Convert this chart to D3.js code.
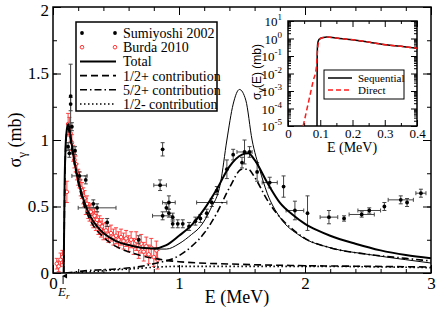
<!DOCTYPE html>
<html><head><meta charset="utf-8">
<script src="https://cdn.jsdelivr.net/npm/d3@7"></script>
<style>
body{margin:0;background:#fff}
svg text{font-family:"Liberation Serif","DejaVu Serif",serif !important;fill:#000}
svg text.sans{font-family:"Liberation Sans","DejaVu Sans",sans-serif !important}
</style>
</head><body><script>
// --- data ---
// Sumiyoshi 2002: energy, sigma, x-error, y-error
const sumE  = [0.12,0.14,0.14,0.15,0.13,0.175,0.21,0.26,0.32,0.35,0.43,0.68,
               0.87,0.85,0.92,0.9,0.87,0.92,0.95,0.95,0.99,1.03,1.08,1.13,1.17,1.22,1.26,1.3,1.38,1.43,1.5,1.52,1.56,1.62,1.72,1.83,1.92,2.02,2.19,2.31,2.45,2.51,2.63,2.76,2.81,2.92]
const sumS  = [0.95,1.33,1.27,1.1,0.9,0.92,0.73,0.7,0.52,0.49,0.38,0.25,
               0.93,0.66,0.53,0.49,0.43,0.45,0.42,0.37,0.37,0.37,0.35,0.39,0.41,0.45,0.53,0.62,0.78,0.89,0.83,0.91,0.91,0.76,0.68,0.65,0.47,0.45,0.42,0.41,0.44,0.47,0.5,0.55,0.53,0.6]
const sumDE = [0,0,0,0,0,0,0.06,0,0,0.15,0,0,
               0,0.05,0.05,0,0.08,0,0,0,0,0,0,0,0,0,0.12,0,0,0,0,0.06,0,0,0.06,0,0.07,0,0.07,0,0.1,0.09,0,0.1,0,0.04]
const sumDS = [0.03,0.24,0.05,0.03,0.03,0.03,0.03,0.03,0.03,0.03,0.03,0.03,
               0.05,0.04,0.05,0.03,0.03,0.03,0.03,0.03,0.03,0.03,0.03,0.03,0.03,0.03,0.03,0.03,0.07,0.04,0.04,0.09,0.04,0.07,0.04,0.08,0.07,0.13,0.05,0.02,0.02,0.02,0.03,0.03,0.03,0.03]

// Burda 2010: energy, sigma, y-error
const burE = [0.03,0.045,0.06,0.075,0.11,0.12,0.13,0.14,0.15,0.16,0.17,0.18,0.19,0.2,0.21,0.22,0.23,0.24,0.25,0.26,0.27,0.28,0.29,0.3,
              0.31,0.32,0.33,0.34,0.35,0.36,0.37,0.38,0.39,0.4,0.42,0.44,0.46,0.48,0.5,0.52,0.54,0.56,0.58,0.6,0.62,0.64,0.66,0.68,0.7,0.72,0.74,0.76,0.78,0.8,0.82,0.83]
const burS = [0.07,0.05,0.1,0.12,0.61,1.12,1.1,1.05,0.98,0.9,0.85,0.82,0.76,0.72,0.7,0.64,0.62,0.58,0.56,0.5,0.52,0.47,0.45,0.46,
              0.42,0.4,0.43,0.38,0.4,0.35,0.37,0.33,0.35,0.31,0.32,0.29,0.3,0.27,0.28,0.25,0.27,0.24,0.26,0.22,0.25,0.2,0.24,0.18,0.22,0.16,0.2,0.14,0.19,0.12,0.17,0.1]
const burDS = [0.04,0.04,0.05,0.05,0.08,0.08,0.07,0.06,0.06,0.06,0.06,0.06,0.06,0.06,0.06,0.06,0.06,0.06,0.06,0.06,0.06,0.06,0.06,0.06,
               0.06,0.06,0.06,0.06,0.06,0.06,0.06,0.06,0.06,0.06,0.06,0.06,0.06,0.06,0.06,0.06,0.06,0.06,0.06,0.06,0.06,0.06,0.07,0.07,0.07,0.07,0.07,0.07,0.07,0.07,0.07,0.07]

// model curves
const totE = [0.085,0.088,0.092,0.1,0.11,0.12,0.13,0.15,0.18,0.21,0.25,0.3,0.35,0.4,0.5,0.6,0.7,0.8,0.9,1.0,1.1,1.2,1.3,1.4,1.5,1.55,1.6,1.7,1.8,1.9,2.0,2.1,2.2,2.4,2.6,2.8,3.0]
const totS = [0,0.3,0.65,0.95,1.08,1.12,1.09,0.96,0.79,0.66,0.53,0.42,0.35,0.3,0.24,0.21,0.19,0.185,0.21,0.28,0.36,0.48,0.63,0.8,0.89,0.9,0.85,0.68,0.53,0.44,0.37,0.32,0.28,0.22,0.17,0.135,0.11]
const thinE = [0.8,0.9,1.0,1.1,1.17,1.25,1.33,1.38,1.43,1.48,1.53,1.58,1.64,1.7,1.8,1.96,2.2,2.5,2.8,3.0]
const thinS = [0.18,0.18,0.22,0.29,0.35,0.48,0.68,1.0,1.27,1.38,1.3,1.0,0.78,0.6,0.42,0.28,0.19,0.14,0.1,0.075]
const halfPE = [0.085,0.089,0.093,0.1,0.11,0.12,0.13,0.15,0.2,0.25,0.3,0.4,0.5,0.6,0.7,0.8,0.9,1.0,1.5,2.0,2.5,3.0]
const halfPS = [0,0.3,0.65,0.93,1.06,1.09,1.05,0.93,0.68,0.5,0.39,0.27,0.2,0.16,0.13,0.11,0.095,0.085,0.065,0.055,0.05,0.045]
const fiveE = [0.1,0.3,0.5,0.7,0.8,1.0,1.1,1.2,1.3,1.4,1.5,1.55,1.6,1.7,1.8,1.9,2.0,2.2,2.5,2.8,3.0]
const fiveS = [0,0.02,0.03,0.05,0.07,0.13,0.2,0.3,0.45,0.64,0.78,0.78,0.72,0.55,0.42,0.33,0.26,0.19,0.14,0.11,0.09]
const halfME = [0.1,0.3,0.6,1.0,1.5,2.0,3.0]
const halfMS = [0,0.01,0.03,0.05,0.05,0.05,0.04]

// inset curves
const seqE = [0.09,0.0905,0.092,0.095,0.1,0.11,0.12,0.13,0.16,0.21,0.26,0.31,0.36,0.4]
const seqS = [1e-5,0.1,0.5,0.8,1.0,1.15,1.2,1.18,1.0,0.8,0.58,0.42,0.34,0.28]
const dirE = [0.047,0.058,0.068,0.078,0.088,0.09,0.093,0.097,0.1,0.11,0.12,0.13,0.16,0.21,0.26,0.31,0.36,0.4]
const dirS = [1e-5,8e-5,5.5e-4,3.7e-3,0.023,0.08,0.4,0.75,0.98,1.15,1.2,1.18,1.0,0.8,0.58,0.42,0.34,0.28]

const legendItems = ["Sumiyoshi 2002","Burda 2010","Total","1/2+ contribution","5/2+ contribution","1/2- contribution"]
const insetLegend = ["Sequential","Direct"]

const width = 436, height = 309

const svg = d3.select("body").append("svg")
    .attr("width", width).attr("height", height)

// main scales
const x = d3.scaleLinear().domain([0,3]).range([53,431])
const y = d3.scaleLinear().domain([0,2]).range([273,7])

svg.append("clipPath").attr("id","mainclip").append("rect")
    .attr("x",53).attr("y",7).attr("width",378).attr("height",266)

//axes: ticks pointing inward on all four sides
function addAxis(axis, tx, ty, fontSize){
    const a = svg.append("g").attr("transform","translate("+tx+","+ty+")").call(axis)
    a.select(".domain").remove()
    a.selectAll("line").attr("stroke","#000")
    a.selectAll("text").style("font-size", fontSize+"px")
    return a
}
const minorX = d3.range(0,3.01,0.2).map(v => +v.toFixed(1))
const minorY = d3.range(0,2.01,0.25)
addAxis(d3.axisBottom(x).tickValues(minorX).tickSize(-4).tickFormat(""), 0, 273)
addAxis(d3.axisTop(x).tickValues(minorX).tickSize(-4).tickFormat(""), 0, 7)
addAxis(d3.axisLeft(y).tickValues(minorY).tickSize(-4).tickFormat(""), 53, 0)
addAxis(d3.axisRight(y).tickValues(minorY).tickSize(-4).tickFormat(""), 431, 0)
addAxis(d3.axisBottom(x).tickValues([0,1,2,3]).tickSize(-8).tickPadding(4).tickFormat(d => String(d)), 0, 273, 17)
addAxis(d3.axisTop(x).tickValues([0,1,2,3]).tickSize(-8).tickFormat(""), 0, 7)
addAxis(d3.axisLeft(y).tickValues([0,0.5,1,1.5,2]).tickSize(-8).tickPadding(4).tickFormat(d => String(d)), 53, 0, 17)
  .selectAll("text").attr("dy", (d) => d === 2 ? "0.5em" : "0.32em")
addAxis(d3.axisRight(y).tickValues([0,0.5,1,1.5,2]).tickSize(-8).tickFormat(""), 431, 0)

svg.append("rect").attr("x",53).attr("y",7).attr("width",378).attr("height",266)
    .attr("fill","none").attr("stroke","#000").attr("stroke-width",1.5)

// axis titles
svg.append("text").attr("x",237).attr("y",303).attr("text-anchor","middle")
    .style("font-size","18px").text("E (MeV)")
const yl = svg.append("text").attr("transform","translate(21,140) rotate(-90)")
    .attr("text-anchor","middle").style("font-size","18px")
yl.append("tspan").text("σ")
yl.append("tspan").attr("dy",5).style("font-size","13px").text("γ")
yl.append("tspan").attr("dy",-5).text(" (mb)")

// E_r marker
svg.append("defs").append("marker").attr("id","arr").attr("viewBox","0 0 10 10")
    .attr("refX",5).attr("refY",2).attr("markerWidth",5).attr("markerHeight",6).attr("orient","auto-start-reverse")
    .append("path").attr("d","M0,10 L5,0 L10,10 Z").attr("fill","#000")
svg.append("line").attr("x1",x(0.08)).attr("x2",x(0.08)).attr("y1",284).attr("y2",276)
    .attr("stroke","#000").attr("stroke-width",1).attr("marker-end","url(#arr)")
const er = svg.append("text").attr("x",58).attr("y",296).style("font-size","13px").style("font-style","italic")
er.append("tspan").text("E")
er.append("tspan").attr("dy",3).style("font-size","9px").text("r")

// data points
const plot = svg.append("g").attr("clip-path","url(#mainclip)")

function errBars(g, xs, ys, dxs, dys, color, cap){
    xs.forEach((e,i) => {
        const cx = x(e), cy = y(ys[i])
        if (dys[i] > 0){
            const y1 = y(ys[i]-dys[i]), y2 = y(ys[i]+dys[i])
            g.append("line").attr("x1",cx).attr("x2",cx).attr("y1",y1).attr("y2",y2).attr("stroke",color)
            g.append("line").attr("x1",cx-cap).attr("x2",cx+cap).attr("y1",y1).attr("y2",y1).attr("stroke",color)
            g.append("line").attr("x1",cx-cap).attr("x2",cx+cap).attr("y1",y2).attr("y2",y2).attr("stroke",color)
        }
        if (dxs && dxs[i] > 0){
            const x1 = x(e-dxs[i]), x2 = x(e+dxs[i])
            g.append("line").attr("x1",x1).attr("x2",x2).attr("y1",cy).attr("y2",cy).attr("stroke",color)
            g.append("line").attr("x1",x1).attr("x2",x1).attr("y1",cy-cap).attr("y2",cy+cap).attr("stroke",color)
            g.append("line").attr("x1",x2).attr("x2",x2).attr("y1",cy-cap).attr("y2",cy+cap).attr("stroke",color)
        }
    })
}

const burG = plot.append("g").attr("stroke-width",0.9)
errBars(burG, burE, burS, null, burDS, "#ff3030", 2)
burG.selectAll("circle").data(burE).enter().append("circle")
    .attr("cx", d => x(d)).attr("cy", (d,i) => y(burS[i])).attr("r",1.8)
    .attr("fill","#fff").attr("stroke","#ff2020").attr("stroke-width",0.9)

const sumG = plot.append("g").attr("stroke-width",1)
errBars(sumG, sumE, sumS, sumDE, sumDS, "#444", 2)
sumG.selectAll("circle").data(sumE).enter().append("circle")
    .attr("cx", d => x(d)).attr("cy", (d,i) => y(sumS[i])).attr("r",1.9).attr("fill","#000")

// curves
const line = (xs, ys) => d3.line().curve(d3.curveMonotoneX)
    .x(d => x(d)).y((d,i) => y(ys[i]))(xs)

const styles = {
    total: {w:2, dash:null},
    half: {w:1.6, dash:"7,4"},
    five: {w:1.6, dash:"7,3,1.5,3"},
    halfm: {w:1.6, dash:"1.5,2.5"}
}
plot.append("path").attr("d", line(thinE, thinS)).attr("fill","none").attr("stroke","#000").attr("stroke-width",1)
plot.append("path").attr("d", line(halfME, halfMS)).attr("fill","none").attr("stroke","#000")
    .attr("stroke-width",styles.halfm.w).attr("stroke-dasharray",styles.halfm.dash)
plot.append("path").attr("d", line(fiveE, fiveS)).attr("fill","none").attr("stroke","#000")
    .attr("stroke-width",styles.five.w).attr("stroke-dasharray",styles.five.dash)
plot.append("path").attr("d", line(halfPE, halfPS)).attr("fill","none").attr("stroke","#000")
    .attr("stroke-width",styles.half.w).attr("stroke-dasharray",styles.half.dash)
plot.append("path").attr("d", line(totE, totS)).attr("fill","none").attr("stroke","#000")
    .attr("stroke-width",styles.total.w)

// legend
const lg = svg.append("g")
lg.append("rect").attr("x",76).attr("y",22).attr("width",141).attr("height",89)
    .attr("fill","#fff").attr("stroke","#000").attr("stroke-width",1.5)
legendItems.forEach((name,i) => {
    const cy = 33 + i*14.2
    lg.append("text").attr("x",123).attr("y",cy+5).style("font-size","14px").text(name)
    if (i === 0){
        [82,115].forEach(px => lg.append("circle").attr("cx",px).attr("cy",cy).attr("r",1.9).attr("fill","#000"))
    } else if (i === 1){
        [82,115].forEach(px => lg.append("circle").attr("cx",px).attr("cy",cy).attr("r",1.8)
            .attr("fill","#fff").attr("stroke","#ff2020").attr("stroke-width",0.9))
    } else {
        const st = [styles.total, styles.half, styles.five, styles.halfm][i-2]
        lg.append("line").attr("x1",80).attr("x2",116).attr("y1",cy).attr("y2",cy)
            .attr("stroke","#000").attr("stroke-width",st.w).attr("stroke-dasharray",st.dash)
    }
})

// ---------- inset ----------
const ix = d3.scaleLinear().domain([0,0.4]).range([288,417])
const iy = d3.scaleLog().domain([1e-5,10]).range([126,21])

svg.append("rect").attr("x",288).attr("y",21).attr("width",129).attr("height",105).attr("fill","#fff")
svg.append("clipPath").attr("id","insetclip").append("rect")
    .attr("x",288).attr("y",21).attr("width",129).attr("height",105)

const decades = [1e-5,1e-4,1e-3,1e-2,1e-1,1,10]
const minorLog = []
decades.slice(0,-1).forEach(d => { for (let k = 2; k < 10; k++) minorLog.push(d*k) })
addAxis(d3.axisLeft(iy).tickValues(minorLog).tickSize(-3).tickFormat(""), 288, 0)
addAxis(d3.axisRight(iy).tickValues(minorLog).tickSize(-3).tickFormat(""), 417, 0)
addAxis(d3.axisLeft(iy).tickValues(decades).tickSize(-6).tickFormat(""), 288, 0)
addAxis(d3.axisRight(iy).tickValues(decades).tickSize(-6).tickFormat(""), 417, 0)
const ixMinor = [0.05,0.15,0.25,0.35]
addAxis(d3.axisBottom(ix).tickValues(ixMinor).tickSize(-3).tickFormat(""), 0, 126)
addAxis(d3.axisTop(ix).tickValues(ixMinor).tickSize(-3).tickFormat(""), 0, 21)
addAxis(d3.axisBottom(ix).tickValues([0,0.1,0.2,0.3,0.4]).tickSize(-6).tickPadding(3)
    .tickFormat(d => String(d)), 0, 126, 13)
addAxis(d3.axisTop(ix).tickValues([0,0.1,0.2,0.3,0.4]).tickSize(-6).tickFormat(""), 0, 21)

// log tick labels as 10^n
decades.forEach(d => {
    const t = svg.append("text").attr("x",282).attr("y",iy(d)+5).attr("text-anchor","end").style("font-size","13px")
    t.append("tspan").text("10")
    t.append("tspan").attr("dy",-6).style("font-size","9px").text(String(Math.round(Math.log10(d))))
})

svg.append("rect").attr("x",288).attr("y",21).attr("width",129).attr("height",105)
    .attr("fill","none").attr("stroke","#000").attr("stroke-width",1.5)

svg.append("text").attr("x",352).attr("y",152).attr("text-anchor","middle")
    .style("font-size","14px").text("E (MeV)")
const iyl = svg.append("text").attr("class","sans").attr("transform","translate(261,72) rotate(-90)")
    .attr("text-anchor","middle").style("font-size","12px")
iyl.append("tspan").text("σ")
iyl.append("tspan").attr("dy",3).style("font-size","9px").text("γ")
iyl.append("tspan").attr("dy",-3).text("(E) (mb)")

const ig = svg.append("g").attr("clip-path","url(#insetclip)")
const iline = (xs, ys) => d3.line().curve(d3.curveMonotoneX).x(d => ix(d)).y((d,i) => iy(ys[i]))(xs)
ig.append("path").attr("d", iline(seqE, seqS)).attr("fill","none").attr("stroke","#000").attr("stroke-width",1.5)
ig.append("path").attr("d", iline(dirE, dirS)).attr("fill","none").attr("stroke","#ff1a1a")
    .attr("stroke-width",1.5).attr("stroke-dasharray","5,3")

const il = svg.append("g")
il.append("rect").attr("x",324).attr("y",70).attr("width",80).attr("height",29)
    .attr("fill","#fff").attr("stroke","#000").attr("stroke-width",1)
insetLegend.forEach((name,i) => {
    const cy = 78 + i*12
    il.append("line").attr("x1",328).attr("x2",352).attr("y1",cy).attr("y2",cy)
        .attr("stroke", i === 0 ? "#000" : "#ff1a1a").attr("stroke-width",1.5)
        .attr("stroke-dasharray", i === 0 ? null : "5,3")
    il.append("text").attr("x",358).attr("y",cy+4).style("font-size","11px").text(name)
})
</script></body></html>
